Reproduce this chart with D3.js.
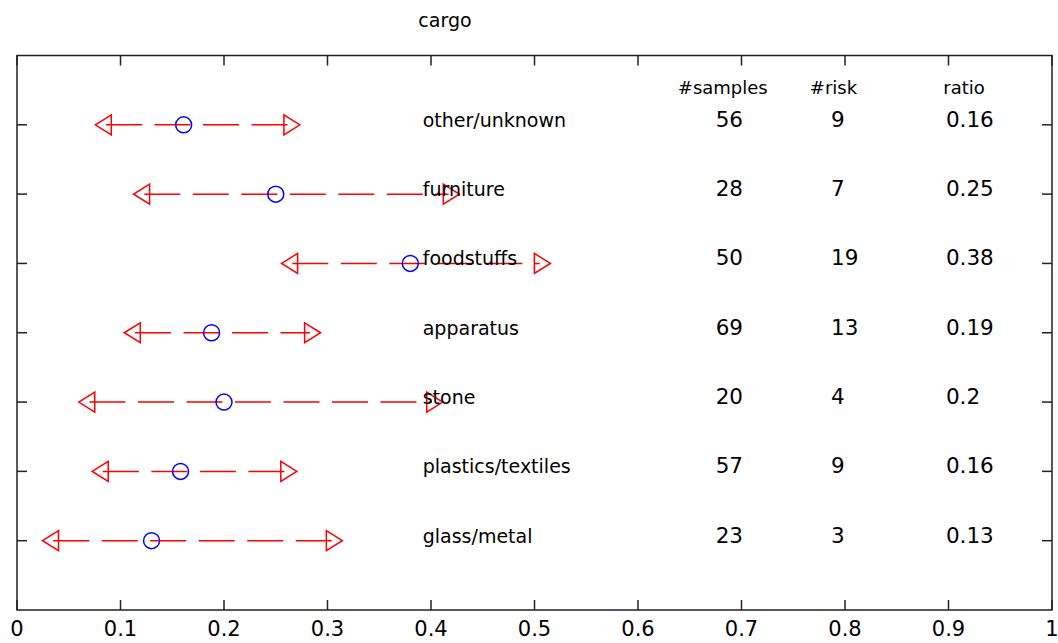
<!DOCTYPE html>
<html>
<head>
<meta charset="utf-8">
<script src="https://cdn.jsdelivr.net/npm/d3@7"></script>
<style>
  body { margin: 0; background: #fff; }
  text { font-family: "DejaVu Sans", sans-serif; fill: #000; }
</style>
</head>
<body>
<div id="chart"></div>
<script>
// chart data, top row first
var categories = ["other/unknown", "furniture", "foodstuffs", "apparatus", "stone", "plastics/textiles", "glass/metal"];
var samples = [56, 28, 50, 69, 20, 57, 23];
var risk = [9, 7, 19, 13, 4, 9, 3];
var ratios = [0.161, 0.25, 0.38, 0.188, 0.2, 0.158, 0.130];
var ratioLabels = ["0.16", "0.25", "0.38", "0.19", "0.2", "0.16", "0.13"];
var lower = [0.086, 0.123, 0.266, 0.114, 0.070, 0.083, 0.035];
var upper = [0.263, 0.417, 0.505, 0.283, 0.401, 0.260, 0.304];
var headers = ["#samples", "#risk", "ratio"];
var xTicks = [0, 0.1, 0.2, 0.3, 0.4, 0.5, 0.6, 0.7, 0.8, 0.9, 1];
var xTickLabels = ["0", "0.1", "0.2", "0.3", "0.4", "0.5", "0.6", "0.7", "0.8", "0.9", "1"];
var yTicks = [1, 2, 3, 4, 5, 6, 7];

var svgWidth = 1058;
var svgHeight = 643;
var margin = { top: 55.5, right: 6, bottom: 33, left: 17 };
var width = svgWidth - margin.left - margin.right;
var height = svgHeight - margin.top - margin.bottom;

var svg = d3.select("#chart").append("svg")
  .attr("width", svgWidth)
  .attr("height", svgHeight);

var chart = svg.append("g")
  .attr("transform", `translate(${margin.left}, ${margin.top})`);

var xScale = d3.scaleLinear().domain([0, 1]).range([0, width]);
var yScale = d3.scaleLinear().domain([0, 8]).range([height, 0]);
var rowY = function(i) { return yScale(categories.length - i); };

// title
svg.append("text")
  .attr("x", margin.left + xScale(0.4135))
  .attr("y", 27)
  .attr("text-anchor", "middle")
  .style("font-size", "19px")
  .text("cargo");

// axes: ticks pointing inward on all four sides
var tickLen = 10;
var axisColor = "#222";
chart.append("rect")
  .attr("width", width).attr("height", height)
  .attr("fill", "none").attr("stroke", axisColor).attr("stroke-width", 1.5);

chart.selectAll(".xtick-b").data(xTicks).enter().append("line")
  .attr("x1", d => xScale(d)).attr("x2", d => xScale(d))
  .attr("y1", height).attr("y2", height - tickLen)
  .attr("stroke", axisColor).attr("stroke-width", 1.5);
chart.selectAll(".xtick-t").data(xTicks).enter().append("line")
  .attr("x1", d => xScale(d)).attr("x2", d => xScale(d))
  .attr("y1", 0).attr("y2", tickLen)
  .attr("stroke", axisColor).attr("stroke-width", 1.5);
chart.selectAll(".ytick-l").data(yTicks).enter().append("line")
  .attr("x1", 0).attr("x2", tickLen)
  .attr("y1", d => yScale(d)).attr("y2", d => yScale(d))
  .attr("stroke", axisColor).attr("stroke-width", 1.5);
chart.selectAll(".ytick-r").data(yTicks).enter().append("line")
  .attr("x1", width).attr("x2", width - tickLen)
  .attr("y1", d => yScale(d)).attr("y2", d => yScale(d))
  .attr("stroke", axisColor).attr("stroke-width", 1.5);

chart.selectAll(".xlabel").data(xTicks).enter().append("text")
  .attr("x", d => xScale(d))
  .attr("y", height + 26)
  .attr("text-anchor", "middle")
  .style("font-size", "21px")
  .text((d, i) => xTickLabels[i]);

// interval lines
chart.selectAll(".ci").data(categories).enter().append("line")
  .attr("x1", (d, i) => xScale(lower[i]))
  .attr("x2", (d, i) => xScale(upper[i]))
  .attr("y1", (d, i) => rowY(i))
  .attr("y2", (d, i) => rowY(i))
  .attr("stroke", "#ff0000").attr("stroke-width", 1.5)
  .attr("stroke-dasharray", "36,12.5");

// triangle markers at interval ends
chart.selectAll(".lo").data(categories).enter().append("path")
  .attr("d", "M-10.7,0L5.3,-10L5.3,10Z")
  .attr("transform", (d, i) => `translate(${xScale(lower[i])},${rowY(i)})`)
  .attr("fill", "none").attr("stroke", "#ff0000").attr("stroke-width", 1.5);
chart.selectAll(".hi").data(categories).enter().append("path")
  .attr("d", "M10.7,0L-5.3,-10L-5.3,10Z")
  .attr("transform", (d, i) => `translate(${xScale(upper[i])},${rowY(i)})`)
  .attr("fill", "none").attr("stroke", "#ff0000").attr("stroke-width", 1.5);

// ratio points
chart.selectAll(".pt").data(ratios).enter().append("circle")
  .attr("cx", d => xScale(d))
  .attr("cy", (d, i) => rowY(i))
  .attr("r", 8)
  .attr("fill", "none").attr("stroke", "#0000ff").attr("stroke-width", 1.5);

// column headers
var headerX = [0.6385, 0.766, 0.895];
chart.selectAll(".hdr").data(headers).enter().append("text")
  .attr("x", (d, i) => xScale(headerX[i]))
  .attr("y", yScale(7.45))
  .style("font-size", "18px")
  .text(d => d);

// row labels and numbers
chart.selectAll(".cat").data(categories).enter().append("text")
  .attr("x", xScale(0.392))
  .attr("y", (d, i) => rowY(i) + 2)
  .style("font-size", "19px")
  .text(d => d);

var cols = [
  { x: 0.675, vals: samples },
  { x: 0.7865, vals: risk },
  { x: 0.8975, vals: ratioLabels }
];
cols.forEach(function(c) {
  chart.selectAll(null).data(c.vals).enter().append("text")
    .attr("x", xScale(c.x))
    .attr("y", (d, i) => rowY(i) + 2)
    .style("font-size", "21.5px")
    .text(d => d);
});
</script>
</body>
</html>
